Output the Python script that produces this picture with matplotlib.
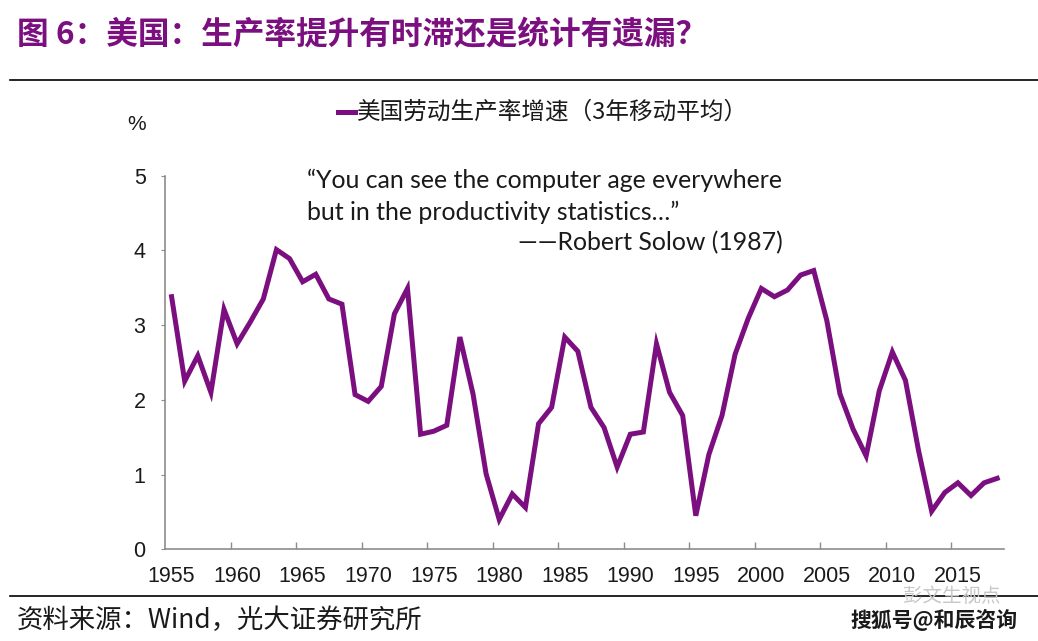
import numpy as np
import matplotlib
matplotlib.use("Agg")
import matplotlib.pyplot as plt
from matplotlib.lines import Line2D

plt.rcParams['font.family'] = ['Liberation Sans', 'Noto Sans CJK SC', 'DejaVu Sans']

years = list(range(1955, 2019))
# 美国劳动生产率增速（3年移动平均），%
growth = [3.38, 2.25, 2.59, 2.10, 3.21, 2.75, 3.04, 3.35, 4.01, 3.89,
          3.58, 3.68, 3.35, 3.28, 2.07, 1.98, 2.18, 3.15, 3.49, 1.54,
          1.58, 1.66, 2.84, 2.08, 1.01, 0.40, 0.74, 0.56, 1.68, 1.90,
          2.84, 2.65, 1.90, 1.63, 1.10, 1.54, 1.57, 2.75, 2.10, 1.79,
          0.45, 1.27, 1.79, 2.61, 3.09, 3.49, 3.38, 3.47, 3.67, 3.73,
          3.06, 2.08, 1.61, 1.25, 2.12, 2.64, 2.26, 1.32, 0.51, 0.76,
          0.89, 0.72, 0.89, 0.95]
series_name = "美国劳动生产率增速（3年移动平均）"
title = "图 6：美国：生产率提升有时滞还是统计有遗漏？"
source = "资料来源：Wind，光大证券研究所"
quote = ["\u201cYou can see the computer age everywhere",
         "but in the productivity statistics\u2026\u201d",
         "\u2014\u2014Robert Solow (1987)"]

purple = "#7b0f7f"
axis_gray = "#8c8c8c"
cjk = ['Noto Sans CJK SC', 'DejaVu Sans']

fig = plt.figure(figsize=(10.38, 6.41), dpi=100)
ax = fig.add_axes([0.159, 0.143, 0.808, 0.583])

x = np.arange(len(years))
ax.plot(x, growth, color=purple, lw=3.6, solid_joinstyle='miter')

ax.set_xlim(-0.5, len(years) - 0.5)
ax.set_ylim(0, 5)

# category labels every 5 years, tick marks between categories
lab_idx = [i for i, y in enumerate(years) if y % 5 == 0]
ax.set_xticks(lab_idx)
ax.set_xticklabels([str(years[i]) for i in lab_idx], fontsize=15.5, color='#1a1a1a')
ax.tick_params(axis='x', length=0, pad=12)
ax.set_xticks([i - 0.5 for i in lab_idx[1:]], minor=True)
ax.tick_params(axis='x', which='minor', direction='in', length=5, color=axis_gray, width=1)

ax.set_yticks(range(6))
ax.set_yticklabels([str(v) for v in range(6)], fontsize=15.5, color='#1a1a1a')
ax.tick_params(axis='y', length=3, color=axis_gray, pad=11)

for s in ['top', 'right']:
    ax.spines[s].set_visible(False)
for s in ['left', 'bottom']:
    ax.spines[s].set_color(axis_gray)
    ax.spines[s].set_linewidth(1.2)

# quote text
qfont = dict(family=['Lato', 'DejaVu Sans'], fontsize=17.9, color='#1a1a1a')
fig.text(307 / 1038, 1 - 180 / 641, quote[0], va='center', ha='left', **qfont)
fig.text(307 / 1038, 1 - 212 / 641, quote[1], va='center', ha='left', **qfont)
fig.text(783 / 1038, 1 - 243 / 641, quote[2], va='center', ha='right', **qfont)

# legend and unit
fig.add_artist(Line2D([338 / 1038, 355 / 1038], [1 - 112 / 641] * 2, color=purple, lw=3.6))
fig.text(357 / 1038, 1 - 112 / 641, series_name, fontsize=17, va='center', ha='left',
         color='#1a1a1a', family=cjk)
fig.text(137 / 1038, 1 - 125 / 641, "%", fontsize=15, va='center', ha='center', color='#1a1a1a')

# title, rules, source
fig.text(17 / 1038, 1 - 35 / 641, title, fontsize=22.8, fontweight='bold', color=purple,
         va='center', ha='left', family=cjk)
fig.add_artist(Line2D([10 / 1038, 1.0], [1 - 80 / 641] * 2, color='black', lw=1.2))
fig.add_artist(Line2D([10 / 1038, 1.0], [1 - 596 / 641] * 2, color='black', lw=1.2))
fig.text(17 / 1038, 1 - 620 / 641, source, fontsize=19, color='#1a1a1a',
         va='center', ha='left', family=cjk)
fig.text(1000 / 1038, 1 - 596 / 641, "彭文生视点", fontsize=14, color='#c8c8c8',
         va='center', ha='right', family=cjk)
fig.text(1018 / 1038, 1 - 620 / 641, "搜狐号@和辰咨询", fontsize=15, color='#1a1a1a',
         fontweight='bold', va='center', ha='right', family=cjk)

fig.savefig("out.png", dpi=100)
